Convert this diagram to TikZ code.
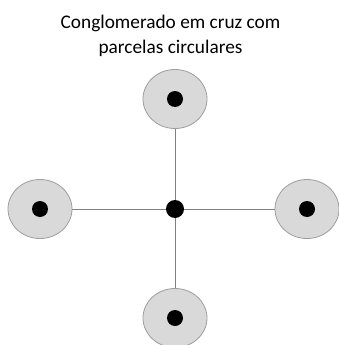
\documentclass[tikz,border=0pt]{standalone}
\usepackage{fontspec}
\setmainfont{Carlito}
\usetikzlibrary{positioning,shapes.geometric}

\begin{document}
\begin{tikzpicture}[
    x=1pt,y=1pt,
    plot/.style={%
      draw=black!38,
      fill=black!15,
      ellipse,
      line width=0.8pt,
      minimum width=64pt,
      minimum height=59pt,
      inner sep=0pt,
    },
    dot/.style={%
      circle,
      fill=black,
      inner sep=0pt,
    },
    arm/.style={%
      draw=black!50,
      line width=0.9pt,
    },
  ]
    \useasboundingbox (0,0) rectangle (338,-345);

    \node [align=center,font=\fontsize{19.3}{25}\selectfont] (title) at (170.5,-36)
      {Conglomerado em cruz com\\parcelas circulares};

    \node [dot,minimum size=18pt] (C) at (175,-209) {};
    \node [plot] (N) at (175,-99) {};
    \node [plot] (W) at (40,-209) {};
    \node [plot] (E) at (307,-209) {};
    \node [plot] (S) at (175,-318) {};

    \node [dot,minimum size=16pt] (Nd) at (N) {};
    \node [dot,minimum size=16pt] (Wd) at (W) {};
    \node [dot,minimum size=16pt] (Ed) at (E) {};
    \node [dot,minimum size=16pt] (Sd) at (S) {};

    \draw [arm] (C) -- (N);
    \draw [arm] (C) -- (W);
    \draw [arm] (C) -- (E);
    \draw [arm] (C) -- (S);
\end{tikzpicture}
\end{document}
